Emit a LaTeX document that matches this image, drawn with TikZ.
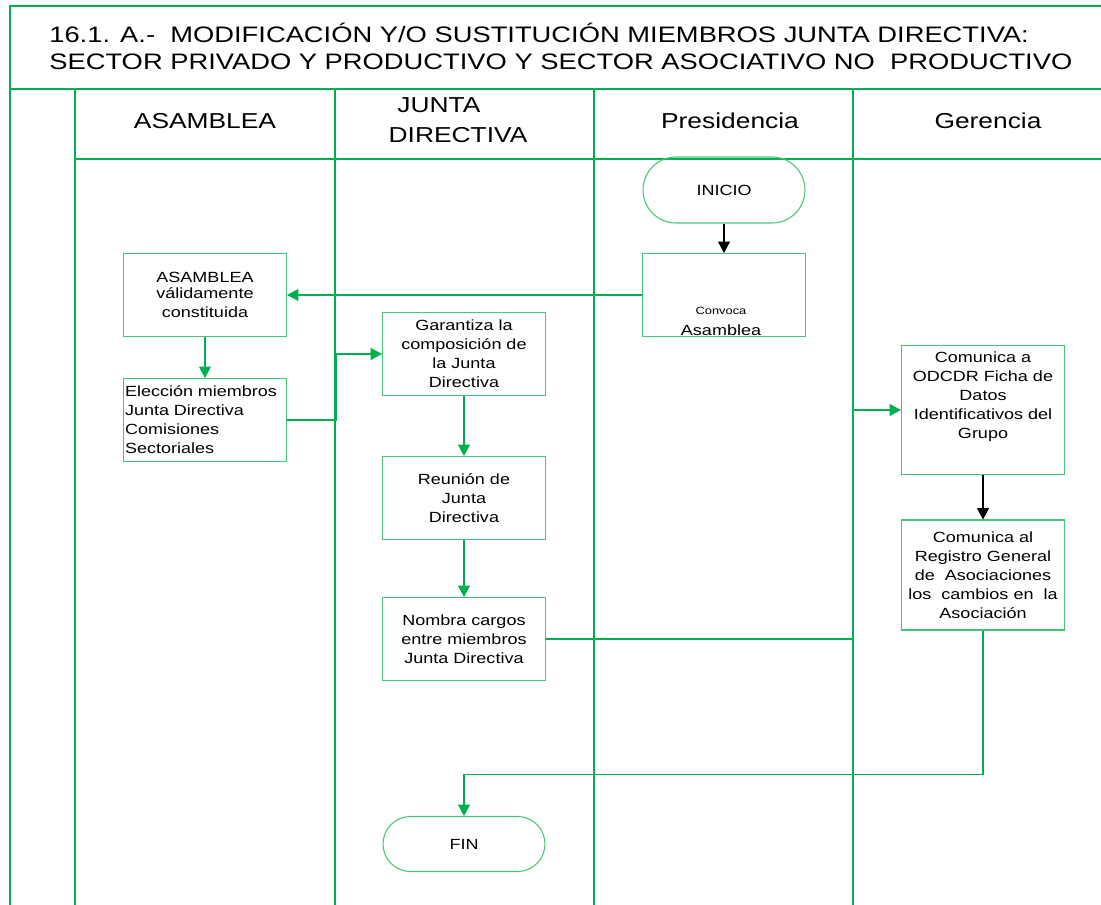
\documentclass[tikz,border=0pt]{standalone}
\usepackage{fontspec}
\setmainfont{Liberation Sans}[FakeStretch=1.22]
\usetikzlibrary{arrows.meta}
\definecolor{lanegreen}{RGB}{0,176,80}
\definecolor{boxgreen}{RGB}{70,196,120}

\begin{document}
\begin{tikzpicture}[x=0.02cm, y=-0.02cm,
	lane/.style={draw=lanegreen, line width=0.8pt},
	box/.style={rectangle, draw=boxgreen, line width=0.6pt, minimum width=3.26cm, minimum height=1.66cm, align=center, inner sep=1pt, font=\fontsize{8.4}{10.8}\selectfont},
	term/.style={rectangle, draw=boxgreen, line width=0.6pt, rounded corners=0.66cm, minimum width=3.24cm, minimum height=1.32cm, font=\fontsize{8.4}{10.8}\selectfont},
	head/.style={align=center, font=\fontsize{12.3}{17}\selectfont},
	flow/.style={draw=lanegreen, line width=0.7pt, -{Triangle[width=6.8pt, length=6.5pt]}},
	blackflow/.style={draw=black, line width=0.7pt, -{Triangle[width=6.8pt, length=6.5pt]}}
]

\useasboundingbox (0,0) rectangle (1101,905);

\draw[lane] (1101,6) -- (10,6) -- (10,905);
\draw[lane] (10,89) -- (1101,89);
\draw[lane] (75,159) -- (1101,159);
\foreach \x in {75,335,594,853}
	\draw[lane] (\x,89) -- (\x,905);

\node(title) [anchor=west, align=left, inner sep=0pt, font=\fontsize{12.75}{15.4}\selectfont] at (49,46) {
	16.1. A.-\ \ MODIFICACIÓN Y/O SUSTITUCIÓN MIEMBROS JUNTA DIRECTIVA:\\
	SECTOR PRIVADO Y PRODUCTIVO Y SECTOR ASOCIATIVO NO\ \ PRODUCTIVO
};

\node(h1) [head] at (205,121) {ASAMBLEA};
\node(h2) [head, align=left] at (458,120) {\hspace{5pt}JUNTA\\DIRECTIVA};
\node(h3) [head] at (730,121) {Presidencia};
\node(h4) [head] at (988,121) {Gerencia};

\node(1) [term] at (724,190) {INICIO};

\node(2) [box] at (724,295) {};
\node(2t) [align=center, inner sep=0pt] at (721,321) {
	{\fontsize{6}{8.5}\selectfont Convoca}\\
	{\fontsize{8.4}{8.5}\selectfont Asamblea}
};

\node(3) [box] at (205,295) {
	ASAMBLEA\\[-2pt]
	válidamente\\
	constituida
};

\node(4) [box, align=left, text width=3.2cm] at (205,420) {
	Elección miembros\\
	Junta Directiva\\
	Comisiones\\
	Sectoriales
};

\node(5) [box] at (464,354) {
	Garantiza la\\
	composición de\\
	la Junta\\
	Directiva
};

\node(6) [box] at (464,498) {
	Reunión de\\
	Junta\\
	Directiva
};

\node(7) [box] at (464,639) {
	Nombra cargos\\
	entre miembros\\
	Junta Directiva
};

\node(8) [box, minimum height=2.58cm] at (983,410) {
	Comunica a\\
	ODCDR Ficha de\\
	Datos\\
	Identificativos del\\
	Grupo\\[6pt]
};

\node(9) [box, minimum height=2.2cm] at (983,575) {
	Comunica al\\
	Registro General\\
	de\ \ Asociaciones\\
	los\ \ cambios en\ \ la\\
	Asociación
};

\node(10) [term, minimum height=1.1cm, rounded corners=0.55cm] at (464,844) {FIN};

\draw[blackflow] (1) -- (2);
\draw[flow] (2) -- (3);
\draw[flow] (3) -- (4);
\draw[flow] (4.east) -- ++(49,0) |- (5.west);
\draw[flow] (5) -- (6);
\draw[flow] (6) -- (7);
\draw[flow] (7.east) -- ++(307,0) |- (8.west);
\draw[blackflow] (8) -- (9);
\draw[flow] (9.south) -- ++(0,144) -| (10.north);

\end{tikzpicture}
\end{document}
